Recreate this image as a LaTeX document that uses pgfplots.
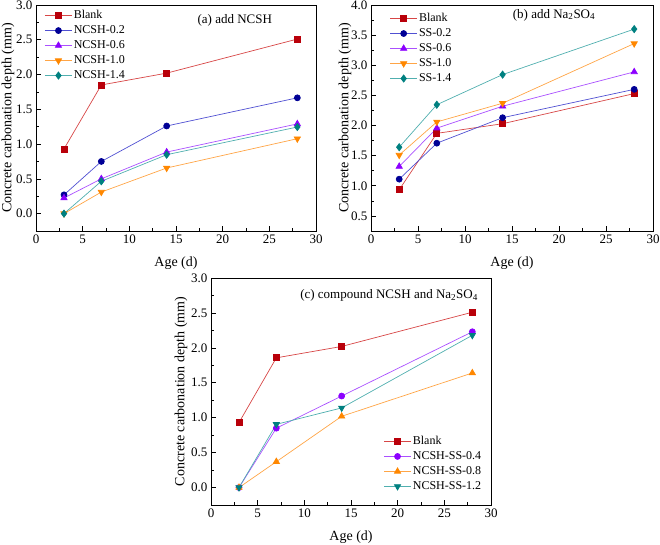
\documentclass[border=0pt]{standalone}
\usepackage{fontspec}
\setmainfont{Liberation Serif}
\usepackage{pgfplots}
\pgfplotsset{compat=1.18}

% series colours: marks / lines
\definecolor{redM}{RGB}{185,0,10}
\definecolor{redL}{RGB}{215,70,70}
\definecolor{navyM}{RGB}{0,0,150}
\definecolor{navyL}{RGB}{80,80,210}
\definecolor{violM}{RGB}{140,0,255}
\definecolor{violL}{RGB}{170,80,255}
\definecolor{oranM}{RGB}{255,135,0}
\definecolor{oranL}{RGB}{255,165,70}
\definecolor{tealM}{RGB}{0,128,128}
\definecolor{tealL}{RGB}{80,175,175}

\pgfplotsset{
  carb/.style={
    scale only axis, width=280pt, height=226pt,
    xmin=0, xmax=30, xtick={0,5,...,30},
    minor x tick num=1, minor y tick num=1,
    tick align=inside, xtick pos=bottom, ytick pos=left,
    major tick length=5pt, minor tick length=3pt,
    axis line style={line width=0.8pt},
    every tick/.style={line width=0.6pt, black},
    /pgf/number format/assume math mode=true,
    ticklabel style={font=\fontsize{13}{15}\selectfont},
    yticklabel style={/pgf/number format/.cd, fixed, fixed zerofill, precision=1},
    xlabel={Age (d)}, ylabel={Concrete carbonation depth (mm)},
    every axis x label/.style={at={(axis description cs:0.5,-0.142)}, anchor=center,
      font=\fontsize{14}{16}\selectfont},
    legend cell align=left,
    legend style={draw=none, fill=none, inner sep=0pt, row sep=1pt,
      font=\fontsize{12}{14}\selectfont,
      nodes={inner sep=1.5pt, text height=8.5pt, text depth=2.5pt}},
    legend image code/.code={
      \draw[mark repeat=2, mark phase=2, #1] plot coordinates {(0pt,0pt)(13.5pt,0pt)(27pt,0pt)};
    },
  },
  ylab/.style={every axis y label/.style={at={(axis description cs:#1,0.5)}, rotate=90,
      anchor=center, font=\fontsize{14}{16}\selectfont}},
  sRed/.style={color=redL, line width=0.7pt, mark=square*, mark size=3pt, mark options={fill=redM, draw=redM}},
  sNavy/.style={color=navyL, line width=0.7pt, mark=*, mark size=3pt, mark options={fill=navyM, draw=navyM}},
  sViolUp/.style={color=violL, line width=0.7pt, mark=triangle*, mark size=3.6pt, mark options={fill=violM, draw=violM}},
  sViolC/.style={color=violL, line width=0.7pt, mark=*, mark size=3pt, mark options={fill=violM, draw=violM}},
  sOranDn/.style={color=oranL, line width=0.7pt, mark=triangle*, mark size=3.6pt, mark options={fill=oranM, draw=oranM, rotate=180}},
  sOranUp/.style={color=oranL, line width=0.7pt, mark=triangle*, mark size=3.6pt, mark options={fill=oranM, draw=oranM}},
  sTealD/.style={color=tealL, line width=0.7pt, mark=diamond*, mark size=3.6pt, mark options={fill=tealM, draw=tealM}},
  sTealDn/.style={color=tealL, line width=0.7pt, mark=triangle*, mark size=3.6pt, mark options={fill=tealM, draw=tealM, rotate=180}},
}

\begin{document}
\begin{tikzpicture}[x=1pt, y=1pt]
\path[use as bounding box] (0,0) rectangle (660,545);

% (a) NCSH only
\begin{axis}[carb, ylab=-0.100, at={(36pt,314pt)}, anchor=south west,
  ymin=-0.25, ymax=3.0, ytick={0,0.5,...,3.0},
  legend style={at={(axis description cs:0.030,0.985)}, anchor=north west}]
\addplot[sRed] coordinates {(3,0.93) (7,1.85) (14,2.02) (28,2.51)};
\addlegendentry{Blank}
\addplot[sNavy] coordinates {(3,0.27) (7,0.75) (14,1.26) (28,1.665)};
\addlegendentry{NCSH-0.2}
\addplot[sViolUp] coordinates {(3,0.225) (7,0.50) (14,0.885) (28,1.29)};
\addlegendentry{NCSH-0.6}
\addplot[sOranDn] coordinates {(3,0.0) (7,0.31) (14,0.656) (28,1.077)};
\addlegendentry{NCSH-1.0}
\addplot[sTealD] coordinates {(3,0.0) (7,0.465) (14,0.847) (28,1.245)};
\addlegendentry{NCSH-1.4}
\node[font=\fontsize{13}{15}\selectfont] at (axis description cs:0.71,0.934) {(a) add NCSH};
\end{axis}

% (b) Na2SO4 only
\begin{axis}[carb, ylab=-0.092, width=282pt, at={(371pt,314pt)}, anchor=south west,
  ymin=0.25, ymax=4.0, ytick={0.5,1.0,...,4.0},
  legend style={at={(axis description cs:0.066,0.972)}, anchor=north west}]
\addplot[sRed] coordinates {(3,0.935) (7,1.87) (14,2.03) (28,2.53)};
\addlegendentry{Blank}
\addplot[sNavy] coordinates {(3,1.11) (7,1.707) (14,2.13) (28,2.60)};
\addlegendentry{SS-0.2}
\addplot[sViolUp] coordinates {(3,1.32) (7,1.957) (14,2.32) (28,2.89)};
\addlegendentry{SS-0.6}
\addplot[sOranDn] coordinates {(3,1.51) (7,2.06) (14,2.37) (28,3.36)};
\addlegendentry{SS-1.0}
\addplot[sTealD] coordinates {(3,1.64) (7,2.345) (14,2.845) (28,3.60)};
\addlegendentry{SS-1.4}
\node[font=\fontsize{13}{15}\selectfont] at (axis description cs:0.649,0.956) {(b) add Na\textsubscript{2}SO\textsubscript{4}};
\end{axis}

% (c) NCSH and Na2SO4 combined
\begin{axis}[carb, ylab=-0.107, height=227pt, at={(211pt,40pt)}, anchor=south west,
  ymin=-0.25, ymax=3.0, ytick={0,0.5,...,3.0},
  legend style={at={(axis description cs:0.616,0.05)}, anchor=south west}]
\addplot[sRed] coordinates {(3,0.93) (7,1.857) (14,2.02) (28,2.51)};
\addlegendentry{Blank}
\addplot[sViolC] coordinates {(3,0.0) (7,0.85) (14,1.31) (28,2.23)};
\addlegendentry{NCSH-SS-0.4}
\addplot[sOranUp] coordinates {(3,0.0) (7,0.37) (14,1.02) (28,1.64)};
\addlegendentry{NCSH-SS-0.8}
\addplot[sTealDn] coordinates {(3,0.0) (7,0.905) (14,1.14) (28,2.18)};
\addlegendentry{NCSH-SS-1.2}
\node[font=\fontsize{13}{15}\selectfont] at (axis description cs:0.636,0.925) {(c) compound NCSH and Na\textsubscript{2}SO\textsubscript{4}};
\end{axis}
\end{tikzpicture}
\end{document}
